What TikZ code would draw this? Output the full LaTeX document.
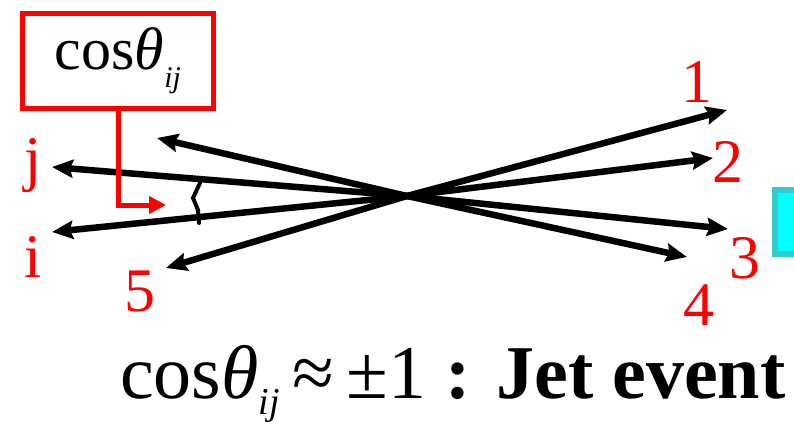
\documentclass[tikz,border=0pt]{standalone}
\usepackage{fontspec}
\setmainfont{Liberation Serif}
\usepackage{tikz}
\usetikzlibrary{arrows.meta, positioning, calc}

\definecolor{boxcyan}{RGB}{0,255,255}
\definecolor{boxteal}{RGB}{51,204,204}

\newcommand{\costh}[1]{cos\textit{θ}\raisebox{#1}{\scalebox{0.5}{\textit{ij}}}}

\begin{document}
\begin{tikzpicture}[x=1pt, y=-1pt, >={Stealth[length=21pt, width=18pt, inset=3pt]},
    track/.style={->, line width=6.5pt, black},
    lbl/.style={text=red, font=\fontsize{62}{62}\selectfont, inner sep=0pt, anchor=base}]
  \useasboundingbox (0,0) rectangle (794,428);

  % Vertex and track ends
  \coordinate (v) at (407,196);
  \coordinate (t1) at (727,110);
  \coordinate (t2) at (713,158);
  \coordinate (t3) at (728,229);
  \coordinate (t4) at (687,257);
  \coordinate (t5) at (166,268);
  \coordinate (ti) at (52,232);
  \coordinate (tj) at (52,167);
  \coordinate (tx) at (157,138);

  % Tracks
  \draw[track] (v) -- (t1);
  \draw[track] (v) -- (t2);
  \draw[track] (v) -- (t3);
  \draw[track] (v) -- (t4);
  \draw[track] (v) -- (t5);
  \draw[track] (v) -- (ti);
  \draw[track] (v) -- (tj);
  \draw[track] (v) -- (tx);

  % Track labels
  \node[lbl] (l1) at (697,102) {1};
  \node[lbl] (l2) at (728,182) {2};
  \node[lbl] (l3) at (745,278) {3};
  \node[lbl] (l4) at (699,325) {4};
  \node[lbl] (l5) at (140,311) {5};
  \node[lbl] (li) at (33,277) {i};
  \node[lbl] (lj) at (33,179) {j};

  % Opening angle mark
  \draw[line width=4pt, line cap=round] (200,183) -- (193,198) -- (198,210) -- (199,223);

  % Label box and pointer
  \node[draw=red, line width=5pt, minimum width=191pt, minimum height=94pt,
    font=\fontsize{60}{60}\selectfont] (box) at (118,61) {\costh{-0.3em}};
  \coordinate (ang) at (166,205);
  \draw[red, line width=5pt, -{Triangle[length=17pt, width=17pt]}] (box.south) |- (ang);

  % Cyan block at the edge
  \draw[draw=boxteal, line width=6pt, fill=boxcyan] (775,190) rectangle (810,254);

  % Caption
  \node[anchor=base west, inner sep=0pt, font=\fontsize{76}{76}\selectfont] (cap) at (120,398)
    {\costh{-0.22em}\,≈\,±1 \textbf{: Jet event}};
\end{tikzpicture}
\end{document}
